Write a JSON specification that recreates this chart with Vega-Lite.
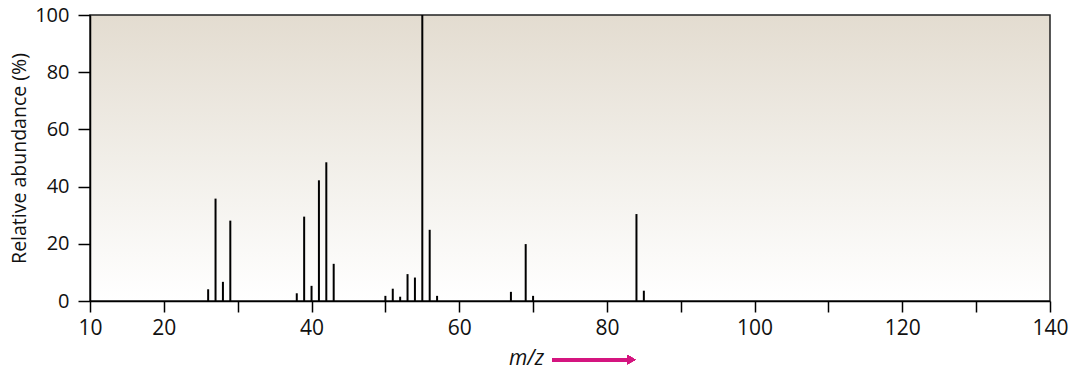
{
  "$schema": "https://vega.github.io/schema/vega-lite/v6.json",
  "width": 960,
  "height": 286,
  "autosize": {"type": "none"},
  "padding": {"left": 90, "top": 15, "right": 23, "bottom": 76},
  "background": "white",
  "config": {
    "font": "Open Sans",
    "view": {
      "stroke": "#222222",
      "strokeWidth": 1.5,
      "fill": {
        "gradient": "linear",
        "x1": 0, "y1": 0, "x2": 0, "y2": 1,
        "stops": [
          {"offset": 0, "color": "#e3dcd0"},
          {"offset": 0.5, "color": "#f1eee8"},
          {"offset": 1, "color": "#ffffff"}
        ]
      }
    },
    "axis": {"grid": false, "domainColor": "black", "tickColor": "black", "labelColor": "#111111", "titleColor": "#111111", "domainWidth": 1.5, "tickWidth": 1.5}
  },
  "data": {
    "values": [
      {"mz": 26, "abundance": 4.1},
      {"mz": 27, "abundance": 35.8},
      {"mz": 28, "abundance": 6.7},
      {"mz": 29, "abundance": 28.1},
      {"mz": 38, "abundance": 2.7},
      {"mz": 39, "abundance": 29.5},
      {"mz": 40, "abundance": 5.3},
      {"mz": 41, "abundance": 42.2},
      {"mz": 42, "abundance": 48.5},
      {"mz": 43, "abundance": 13.0},
      {"mz": 50, "abundance": 1.8},
      {"mz": 51, "abundance": 4.3},
      {"mz": 52, "abundance": 1.5},
      {"mz": 53, "abundance": 9.4},
      {"mz": 54, "abundance": 8.2},
      {"mz": 55, "abundance": 100},
      {"mz": 56, "abundance": 24.9},
      {"mz": 57, "abundance": 1.8},
      {"mz": 67, "abundance": 3.2},
      {"mz": 69, "abundance": 19.9},
      {"mz": 70, "abundance": 1.8},
      {"mz": 84, "abundance": 30.4},
      {"mz": 85, "abundance": 3.6}
    ]
  },
  "layer": [
    {
      "mark": {"type": "rule", "color": "black", "strokeWidth": 2},
      "encoding": {
        "x": {
          "field": "mz", "type": "quantitative",
          "scale": {"domain": [10, 140], "nice": false, "zero": false},
          "axis": {
            "values": [10, 20, 30, 40, 50, 60, 70, 80, 90, 100, 110, 120, 130, 140],
            "labelExpr": "datum.value == 10 || datum.value % 20 == 0 ? datum.label : ''",
            "labelFlush": false,
            "labelFontSize": 21,
            "labelPadding": 5,
            "tickSize": 11,
            "title": "m/z",
            "titleFontStyle": "italic",
            "titleFontWeight": "normal",
            "titleFontSize": 21,
            "titleX": 436,
            "titleY": 57,
            "titleAlign": "center",
            "titleBaseline": "middle"
          }
        },
        "y": {
          "field": "abundance", "type": "quantitative",
          "scale": {"domain": [0, 100], "nice": false},
          "axis": {
            "values": [0, 20, 40, 60, 80, 100],
            "labelFontSize": 20,
            "labelPadding": 9,
            "labelFlush": false,
            "tickSize": 12,
            "title": "Relative abundance (%)",
            "titleFontWeight": "normal",
            "titleFontSize": 19.5,
            "titlePadding": 5
          }
        },
        "y2": {"datum": 0}
      }
    },
    {
      "mark": {"type": "rule", "color": "#d4157f", "strokeWidth": 3},
      "encoding": {
        "x": {"datum": 72.6, "type": "quantitative"},
        "x2": {"datum": 83.0},
        "y": {"datum": -20.5, "type": "quantitative"}
      }
    },
    {
      "mark": {"type": "point", "shape": "triangle-right", "filled": true, "color": "#d4157f", "opacity": 1, "size": 90},
      "encoding": {
        "x": {"datum": 83.3, "type": "quantitative"},
        "y": {"datum": -20.5, "type": "quantitative"}
      }
    }
  ]
}
